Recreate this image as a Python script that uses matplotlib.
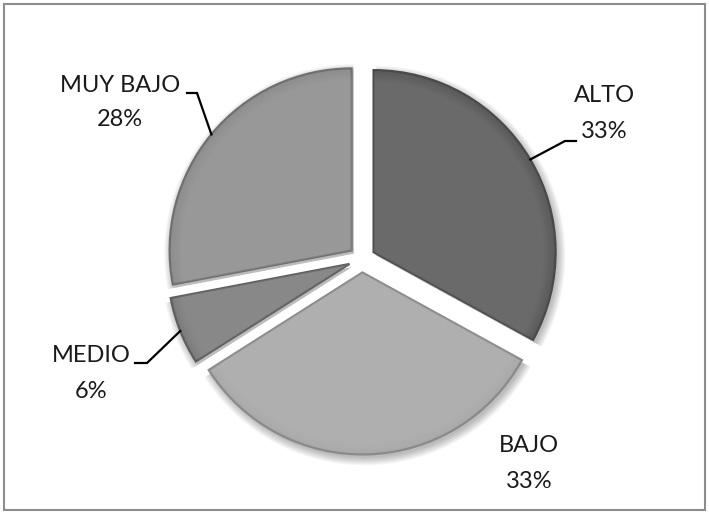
import matplotlib
matplotlib.use("Agg")
import matplotlib.pyplot as plt
from matplotlib.patches import Rectangle
import numpy as np

plt.rcParams['font.family'] = ['Lato', 'DejaVu Sans']

categorias = ["ALTO", "BAJO", "MEDIO", "MUY BAJO"]
porcentajes = [33, 33, 6, 28]
colores = ["#5b5b5b", "#a9a9a9", "#7c7c7c", "#8e8e8e"]
bordes = ["#4a4a4a", "#8a8a8a", "#5e5e5e", "#707070"]

W, H = 709, 514
CX, CY, R = 362, 259, 182
SEP = 0.074


def px(x, y):
    # pixel (desde arriba a la izquierda) -> coordenadas del eje
    return (x - CX) / R, (CY - y) / R


fig = plt.figure(figsize=(W / 100, H / 100), dpi=100)
ax = fig.add_axes([0, 0, 1, 1])

explode = [SEP] * len(porcentajes)

# sombra difusa debajo de las porciones
for i in range(8):
    sw, _ = ax.pie(porcentajes, explode=explode, startangle=90, counterclock=False,
                   radius=1.0 + 0.006 * i, center=(0.012, -0.018),
                   colors=["black"] * 4, normalize=True)
    for w in sw:
        w.set_alpha(0.035)
        w.set_linewidth(0)
        w.set_zorder(1)

wedges, _ = ax.pie(porcentajes, explode=explode, startangle=90, counterclock=False,
                   colors=colores, normalize=True,
                   wedgeprops=dict(linewidth=1.6))
for w, b in zip(wedges, bordes):
    w.set_edgecolor(b)
    w.set_zorder(3)

# brillo suave en el interior de cada porcion
for i in range(5):
    hw, _ = ax.pie(porcentajes, explode=explode, startangle=90, counterclock=False,
                   radius=0.985 - 0.012 * i, colors=["white"] * 4, normalize=True)
    for w in hw:
        w.set_alpha(0.025)
        w.set_linewidth(0)
        w.set_zorder(4)

# pie() reajusta los limites, asi que se fijan despues
ax.set_xlim(-CX / R, (W - CX) / R)
ax.set_ylim(-(H - CY) / R, CY / R)
ax.set_aspect("equal")
ax.axis("off")

# etiquetas: centro x, y linea 1, y linea 2 (pixeles)
etiquetas = {
    "ALTO": (604, 96, 132),
    "BAJO": (529, 446, 481),
    "MEDIO": (91, 356, 392),
    "MUY BAJO": (120, 86, 120),
}
# codo de las lineas guia (inicio junto al texto, fin del tramo horizontal)
codos = {
    "ALTO": ((576, 141), (565, 141)),
    "MEDIO": ((135, 363), (147, 363)),
    "MUY BAJO": ((187, 93), (197, 93)),
}

angulos = []
inicio = 90.0
for p in porcentajes:
    ang = p / sum(porcentajes) * 360
    angulos.append(inicio - ang / 2)
    inicio -= ang

for cat, pct, ang in zip(categorias, porcentajes, angulos):
    x0, y1, y2 = etiquetas[cat]
    ax.text(*px(x0, y1), cat, ha="center", va="center", fontsize=17, color="#1a1a1a")
    ax.text(*px(x0, y2), f"{pct}%", ha="center", va="center", fontsize=17, color="#1a1a1a")
    if cat in codos:
        a = np.deg2rad(ang)
        fin = ((1 + SEP) * np.cos(a), (1 + SEP) * np.sin(a))
        p1 = px(*codos[cat][0])
        p2 = px(*codos[cat][1])
        ax.plot([p1[0], p2[0], fin[0]], [p1[1], p2[1], fin[1]],
                color="black", lw=1.6, zorder=5, solid_joinstyle="miter")

fig.patches.append(Rectangle((4 / W, 4 / H), (W - 8) / W, (H - 8) / H,
                             transform=fig.transFigure, fill=False,
                             edgecolor="#8c8c8c", linewidth=1.5))

fig.savefig("out.png", dpi=100)
